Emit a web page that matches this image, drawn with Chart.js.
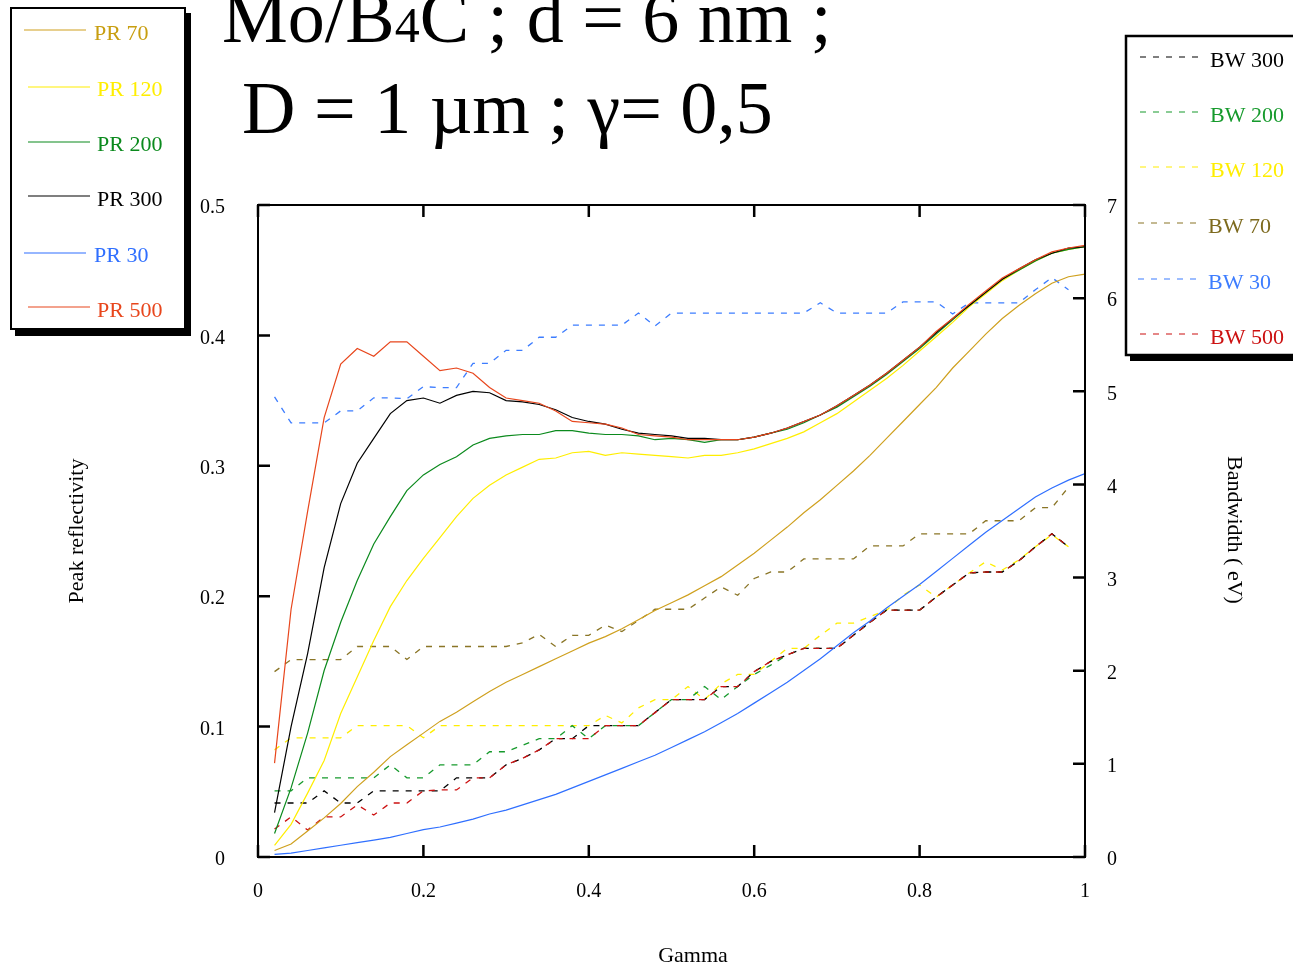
<!DOCTYPE html>
<html>
<head>
<meta charset="utf-8">
<style>
  html, body { margin: 0; padding: 0; background: #fff; }
  #wrap { position: relative; width: 1293px; height: 965px; }
</style>
<script src="https://cdn.jsdelivr.net/npm/chart.js@4.4.1/dist/chart.umd.min.js"></script>
</head>
<body>
<div id="wrap"><canvas id="myChart" width="1293" height="965"></canvas></div>
<script>
/* data */

const gamma = [0.02, 0.04, 0.06, 0.08, 0.10, 0.12, 0.14, 0.16, 0.18, 0.20,
  0.22, 0.24, 0.26, 0.28, 0.30, 0.32, 0.34, 0.36, 0.38, 0.40,
  0.42, 0.44, 0.46, 0.48, 0.50, 0.52, 0.54, 0.56, 0.58, 0.60,
  0.62, 0.64, 0.66, 0.68, 0.70, 0.72, 0.74, 0.76, 0.78, 0.80,
  0.82, 0.84, 0.86, 0.88, 0.90, 0.92, 0.94, 0.96, 0.98, 1.00];

// peak reflectivity (left axis)
const pr500 = [0.072, 0.19, 0.265, 0.337, 0.378, 0.39, 0.384, 0.395, 0.395, 0.384,
  0.373, 0.375, 0.371, 0.36, 0.352, 0.35, 0.348, 0.342, 0.334, 0.333,
  0.332, 0.329, 0.324, 0.323, 0.322, 0.32, 0.32, 0.32, 0.32, 0.322,
  0.325, 0.329, 0.334, 0.339, 0.346, 0.354, 0.362, 0.371, 0.381, 0.391,
  0.403, 0.413, 0.424, 0.434, 0.444, 0.451, 0.458, 0.464, 0.467, 0.469];
const pr300 = [0.034, 0.10, 0.156, 0.222, 0.271, 0.302, 0.321, 0.34, 0.35, 0.352,
  0.348, 0.354, 0.357, 0.356, 0.35, 0.349, 0.347, 0.343, 0.337, 0.334,
  0.332, 0.328, 0.325, 0.324, 0.323, 0.321, 0.321, 0.32, 0.32, 0.322,
  0.325, 0.329, 0.334, 0.339, 0.346, 0.354, 0.362, 0.371, 0.381, 0.391,
  0.402, 0.413, 0.423, 0.433, 0.443, 0.451, 0.458, 0.463, 0.467, 0.468];
const pr200 = [0.018, 0.053, 0.095, 0.143, 0.18, 0.212, 0.24, 0.261, 0.281, 0.293,
  0.301, 0.307, 0.316, 0.321, 0.323, 0.324, 0.324, 0.327, 0.327, 0.325,
  0.324, 0.324, 0.323, 0.32, 0.321, 0.32, 0.318, 0.32, 0.32, 0.322,
  0.325, 0.328, 0.333, 0.339, 0.345, 0.353, 0.361, 0.37, 0.38, 0.39,
  0.401, 0.412, 0.423, 0.433, 0.443, 0.45, 0.457, 0.463, 0.466, 0.468];
const pr120 = [0.009, 0.025, 0.049, 0.074, 0.11, 0.138, 0.166, 0.192, 0.212, 0.229,
  0.245, 0.261, 0.275, 0.285, 0.293, 0.299, 0.305, 0.306, 0.31, 0.311,
  0.308, 0.31, 0.309, 0.308, 0.307, 0.306, 0.308, 0.308, 0.31, 0.313,
  0.317, 0.321, 0.326, 0.333, 0.34, 0.349, 0.358, 0.367, 0.377, 0.388,
  0.399, 0.41, 0.422, 0.432, 0.442, 0.45, 0.457, 0.463, 0.466, 0.468];
const pr70 = [0.005, 0.01, 0.02, 0.03, 0.041, 0.054, 0.065, 0.077, 0.086, 0.095,
  0.104, 0.111, 0.119, 0.127, 0.134, 0.14, 0.146, 0.152, 0.158, 0.164,
  0.169, 0.175, 0.182, 0.189, 0.195, 0.201, 0.208, 0.215, 0.224, 0.233,
  0.243, 0.253, 0.264, 0.274, 0.285, 0.296, 0.308, 0.321, 0.334, 0.347,
  0.36, 0.375, 0.388, 0.401, 0.413, 0.423, 0.432, 0.44, 0.445, 0.447];
const pr30 = [0.002, 0.003, 0.005, 0.007, 0.009, 0.011, 0.013, 0.015, 0.018, 0.021,
  0.023, 0.026, 0.029, 0.033, 0.036, 0.04, 0.044, 0.048, 0.053, 0.058,
  0.063, 0.068, 0.073, 0.078, 0.084, 0.09, 0.096, 0.103, 0.11, 0.118,
  0.126, 0.134, 0.143, 0.152, 0.162, 0.172, 0.181, 0.191, 0.20, 0.209,
  0.219, 0.229, 0.239, 0.249, 0.258, 0.267, 0.276, 0.283, 0.289, 0.294];

// bandwidth in eV (right axis)
const bw300 = [0.58, 0.58, 0.58, 0.71, 0.58, 0.58, 0.71, 0.71, 0.71, 0.71,
  0.71, 0.85, 0.85, 0.85, 0.99, 1.06, 1.15, 1.27, 1.27, 1.41,
  1.41, 1.41, 1.41, 1.55, 1.69, 1.69, 1.69, 1.83, 1.83, 1.99,
  2.10, 2.17, 2.24, 2.24, 2.24, 2.38, 2.52, 2.65, 2.65, 2.65,
  2.79, 2.92, 3.05, 3.06, 3.06, 3.18, 3.33, 3.47, 3.33, null];
const bw200 = [0.71, 0.71, 0.85, 0.85, 0.85, 0.85, 0.85, 0.99, 0.85, 0.85,
  0.99, 0.99, 0.99, 1.13, 1.13, 1.20, 1.27, 1.27, 1.41, 1.27,
  1.41, 1.41, 1.41, 1.55, 1.69, 1.69, 1.83, 1.69, 1.83, 1.96,
  2.06, 2.17, 2.24, 2.24, 2.24, 2.38, 2.52, 2.65, 2.65, 2.65,
  2.79, 2.92, 3.05, 3.06, 3.06, 3.18, 3.33, 3.47, 3.33, null];
const bw120 = [1.15, 1.28, 1.28, 1.28, 1.28, 1.41, 1.41, 1.41, 1.41, 1.28,
  1.41, 1.41, 1.41, 1.41, 1.41, 1.41, 1.41, 1.41, 1.41, 1.41,
  1.52, 1.44, 1.60, 1.69, 1.69, 1.83, 1.69, 1.86, 1.96, 1.96,
  2.10, 2.24, 2.24, 2.38, 2.51, 2.51, 2.58, 2.65, 2.81, 2.92,
  2.79, 2.92, 3.05, 3.17, 3.08, 3.19, 3.33, 3.46, 3.33, null];
const bw70 = [1.99, 2.12, 2.12, 2.12, 2.12, 2.26, 2.26, 2.26, 2.12, 2.26,
  2.26, 2.26, 2.26, 2.26, 2.26, 2.30, 2.39, 2.26, 2.38, 2.38,
  2.49, 2.42, 2.54, 2.66, 2.66, 2.66, 2.78, 2.90, 2.81, 2.99,
  3.06, 3.06, 3.20, 3.20, 3.20, 3.20, 3.34, 3.34, 3.34, 3.47,
  3.47, 3.47, 3.47, 3.61, 3.61, 3.61, 3.75, 3.75, 3.97, null];
const bw30 = [4.94, 4.66, 4.66, 4.66, 4.79, 4.79, 4.93, 4.93, 4.92, 5.05,
  5.04, 5.04, 5.30, 5.30, 5.44, 5.44, 5.58, 5.58, 5.71, 5.71,
  5.71, 5.71, 5.84, 5.70, 5.84, 5.84, 5.84, 5.84, 5.84, 5.84,
  5.84, 5.84, 5.84, 5.95, 5.84, 5.84, 5.84, 5.84, 5.96, 5.96,
  5.96, 5.83, 5.95, 5.95, 5.95, 5.95, 6.09, 6.22, 6.09, null];
const bw500 = [0.30, 0.43, 0.29, 0.43, 0.43, 0.56, 0.45, 0.58, 0.58, 0.71,
  0.72, 0.72, 0.85, 0.85, 0.99, 1.06, 1.15, 1.27, 1.27, 1.27,
  1.41, 1.41, 1.41, 1.55, 1.69, 1.69, 1.69, 1.83, 1.83, 1.99,
  2.10, 2.17, 2.24, 2.24, 2.24, 2.38, 2.52, 2.65, 2.65, 2.65,
  2.79, 2.92, 3.05, 3.06, 3.06, 3.18, 3.33, 3.47, 3.33, null];

const xTicks = [0, 0.2, 0.4, 0.6, 0.8, 1];
const leftTicks = [0, 0.1, 0.2, 0.3, 0.4, 0.5];
const rightTicks = [0, 1, 2, 3, 4, 5, 6, 7];

/* colours */
const C = {
  pr70: '#cfa01e', pr120: '#ffee00', pr200: '#0b8a1d', pr300: '#000000', pr30: '#2f6fff', pr500: '#e8461c',
  bw300: '#000000', bw200: '#169a2c', bw120: '#ffee00', bw70: '#8a7526', bw30: '#3d7dff', bw500: '#cc1111'
};
const SERIF = '"Liberation Serif", "Times New Roman", serif';
const DASH = [6, 7];

function pts(arr) {
  return gamma.map(function(g, i) { return { x: g, y: arr[i] }; });
}

function solid(label, arr, color) {
  return { label: label, data: pts(arr), borderColor: color, backgroundColor: color,
    borderWidth: 1.2, pointRadius: 0, tension: 0, yAxisID: 'y', fill: false };
}
function dashed(label, arr, color) {
  return { label: label, data: pts(arr), borderColor: color, backgroundColor: color,
    borderWidth: 1.3, pointRadius: 0, tension: 0, yAxisID: 'y2', fill: false, borderDash: DASH };
}

/* frame with inward ticks, titles and the two legend boxes */

const decorations = {
  id: 'decorations',
  afterDatasetsDraw(chart) {
    const ctx = chart.ctx;
    const a = chart.chartArea;
    const sx = chart.scales.x, sy = chart.scales.y, sy2 = chart.scales.y2;
    ctx.save();
    ctx.strokeStyle = '#000';
    ctx.lineWidth = 2;
    ctx.strokeRect(a.left, a.top, a.right - a.left, a.bottom - a.top);
    ctx.lineWidth = 2.5;
    ctx.beginPath();
    xTicks.forEach(function(v) {
      const px = sx.getPixelForValue(v);
      ctx.moveTo(px, a.bottom); ctx.lineTo(px, a.bottom - 12);
      ctx.moveTo(px, a.top); ctx.lineTo(px, a.top + 12);
    });
    leftTicks.forEach(function(v) {
      const py = sy.getPixelForValue(v);
      ctx.moveTo(a.left, py); ctx.lineTo(a.left + 12, py);
    });
    rightTicks.forEach(function(v) {
      const py = sy2.getPixelForValue(v);
      ctx.moveTo(a.right, py); ctx.lineTo(a.right - 12, py);
    });
    ctx.stroke();
    ctx.restore();
  },
  afterDraw(chart) {
    const ctx = chart.ctx;
    ctx.save();
    ctx.fillStyle = '#000';

    // title
    ctx.textAlign = 'left';
    ctx.textBaseline = 'alphabetic';
    ctx.font = '74px ' + SERIF;
    let x = 222;
    ctx.fillText('Mo/B', x, 42);
    x += ctx.measureText('Mo/B').width;
    ctx.font = '50px ' + SERIF;
    ctx.fillText('4', x, 42);
    x += ctx.measureText('4').width;
    ctx.font = '74px ' + SERIF;
    ctx.fillText('C ; d = 6 nm ;', x, 42);
    ctx.fillText('D = 1 \u00b5m ; \u03b3= 0,5', 242, 133);

    // axis titles
    ctx.font = '22px ' + SERIF;
    ctx.textAlign = 'center';
    ctx.fillText('Gamma', 693, 962);
    ctx.save();
    ctx.translate(83, 531);
    ctx.rotate(-Math.PI / 2);
    ctx.fillText('Peak reflectivity', 0, 0);
    ctx.restore();
    ctx.save();
    ctx.translate(1228, 530);
    ctx.rotate(Math.PI / 2);
    ctx.fillText('Bandwidth ( eV)', 0, 0);
    ctx.restore();

    // left legend box
    ctx.fillStyle = '#000';
    ctx.fillRect(15, 13, 176, 323);
    ctx.fillStyle = '#fff';
    ctx.fillRect(10, 7, 176, 323);
    ctx.strokeStyle = '#000';
    ctx.lineWidth = 2;
    ctx.strokeRect(11, 8, 174, 321);

    const leftItems = [
      { t: 'PR 70', c: C.pr70, l1: 24, l2: 86, ly: 30, tx: 94, ty: 40 },
      { t: 'PR 120', c: C.pr120, l1: 28, l2: 90, ly: 87, tx: 97, ty: 96 },
      { t: 'PR 200', c: C.pr200, l1: 28, l2: 90, ly: 142, tx: 97, ty: 151 },
      { t: 'PR 300', c: C.pr300, l1: 28, l2: 90, ly: 196, tx: 97, ty: 206 },
      { t: 'PR 30', c: C.pr30, l1: 24, l2: 86, ly: 253, tx: 94, ty: 262 },
      { t: 'PR 500', c: C.pr500, l1: 28, l2: 90, ly: 307, tx: 97, ty: 317 }
    ];
    ctx.font = '22px ' + SERIF;
    ctx.textAlign = 'left';
    ctx.lineWidth = 1.2;
    leftItems.forEach(function(it) {
      ctx.strokeStyle = it.c;
      ctx.beginPath(); ctx.moveTo(it.l1, it.ly); ctx.lineTo(it.l2, it.ly); ctx.stroke();
      ctx.fillStyle = it.c === C.pr70 ? '#c89e10' : it.c;
      ctx.fillText(it.t, it.tx, it.ty);
    });

    // right legend box
    ctx.fillStyle = '#000';
    ctx.fillRect(1130, 40, 170, 321);
    ctx.fillStyle = '#fff';
    ctx.fillRect(1125, 35, 175, 321);
    ctx.strokeStyle = '#000';
    ctx.lineWidth = 2.5;
    ctx.strokeRect(1126, 36, 180, 319);

    const rightItems = [
      { t: 'BW 300', c: C.bw300, l1: 1140, l2: 1203, ly: 57, tx: 1210, ty: 67 },
      { t: 'BW 200', c: C.bw200, l1: 1140, l2: 1203, ly: 112, tx: 1210, ty: 122 },
      { t: 'BW 120', c: C.bw120, l1: 1140, l2: 1203, ly: 167, tx: 1210, ty: 177 },
      { t: 'BW 70', c: C.bw70, l1: 1138, l2: 1201, ly: 223, tx: 1208, ty: 233 },
      { t: 'BW 30', c: C.bw30, l1: 1138, l2: 1201, ly: 279, tx: 1208, ty: 289 },
      { t: 'BW 500', c: C.bw500, l1: 1140, l2: 1203, ly: 334, tx: 1210, ty: 344 }
    ];
    ctx.lineWidth = 1.2;
    rightItems.forEach(function(it) {
      ctx.strokeStyle = it.c;
      ctx.setLineDash([6, 7]);
      ctx.beginPath(); ctx.moveTo(it.l1, it.ly); ctx.lineTo(it.l2, it.ly); ctx.stroke();
      ctx.setLineDash([]);
      ctx.fillStyle = it.c === C.bw70 ? '#7d6a1e' : it.c;
      ctx.fillText(it.t, it.tx, it.ty);
    });
    ctx.restore();
  }
};

const ctx = document.getElementById('myChart').getContext('2d');

// eslint-disable-next-line no-undef
const chart = new Chart(ctx, {
  type: 'line',
  data: {
    datasets: [
      solid('PR 500', pr500, C.pr500),
      solid('PR 300', pr300, C.pr300),
      solid('PR 200', pr200, C.pr200),
      solid('PR 120', pr120, C.pr120),
      solid('PR 70', pr70, C.pr70),
      solid('PR 30', pr30, C.pr30),
      dashed('BW 500', bw500, C.bw500),
      dashed('BW 300', bw300, C.bw300),
      dashed('BW 200', bw200, C.bw200),
      dashed('BW 120', bw120, C.bw120),
      dashed('BW 70', bw70, C.bw70),
      dashed('BW 30', bw30, C.bw30)
    ]
  },
  options: {
    responsive: false,
    animation: false,
    devicePixelRatio: 1,
    layout: { padding: { top: 205, left: 0, right: 0, bottom: 0 } },
    plugins: { legend: { display: false }, tooltip: { enabled: false } },
    scales: {
      x: {
        type: 'linear', min: 0, max: 1,
        afterFit: function(s) { s.height = 108; },
        afterBuildTicks: function(s) { s.ticks = xTicks.map(function(v) { return { value: v }; }); },
        grid: { display: false, drawTicks: false },
        border: { display: false },
        ticks: { color: '#000', padding: 23, maxRotation: 0, font: { family: SERIF, size: 20 },
          callback: function(v) { return String(Math.round(v * 10) / 10); } }
      },
      y: {
        type: 'linear', position: 'left', min: 0, max: 0.5,
        afterFit: function(s) { s.width = 258; },
        afterBuildTicks: function(s) { s.ticks = leftTicks.map(function(v) { return { value: v }; }); },
        grid: { display: false, drawTicks: false },
        border: { display: false },
        ticks: { color: '#000', padding: 33, labelOffset: 3, font: { family: SERIF, size: 20 },
          callback: function(v) { return String(Math.round(v * 10) / 10); } }
      },
      y2: {
        type: 'linear', position: 'right', min: 0, max: 7,
        afterFit: function(s) { s.width = 208; },
        afterBuildTicks: function(s) { s.ticks = rightTicks.map(function(v) { return { value: v }; }); },
        grid: { display: false, drawTicks: false },
        border: { display: false },
        ticks: { color: '#000', padding: 22, labelOffset: 3, font: { family: SERIF, size: 20 } }
      }
    }
  },
  plugins: [decorations]
});
</script>
</body>
</html>
